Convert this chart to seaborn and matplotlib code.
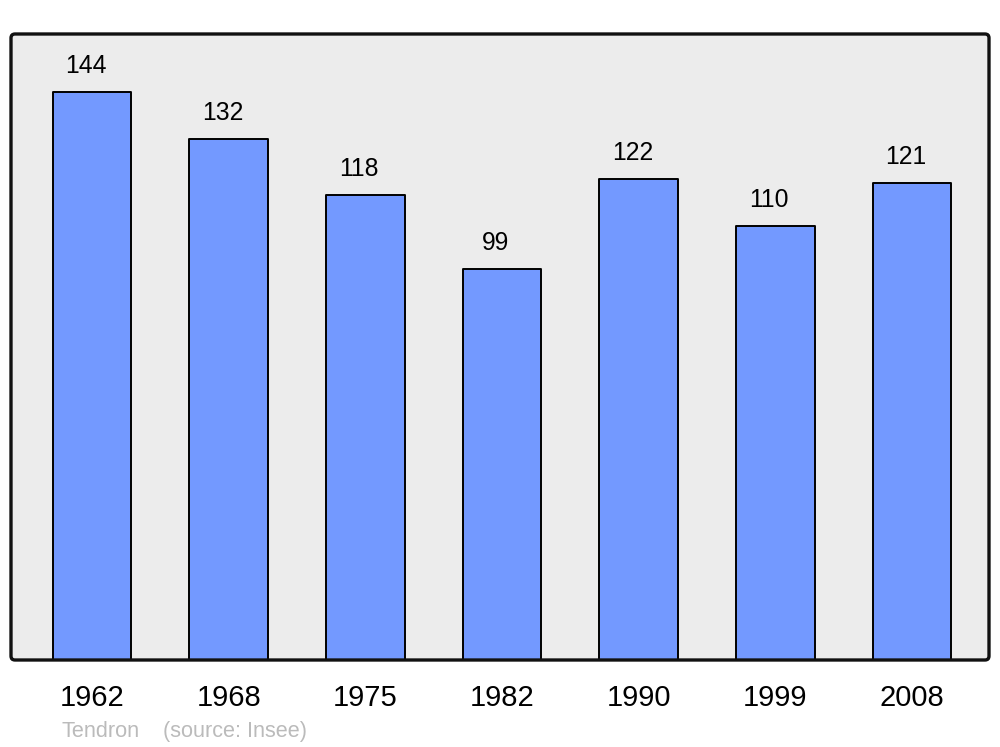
import numpy as np
import pandas as pd
import matplotlib
matplotlib.use('Agg')
import matplotlib.pyplot as plt
import seaborn as sns
from matplotlib.patches import FancyBboxPatch

# data
years = ['1962', '1968', '1975', '1982', '1990', '1999', '2008']
population = [144, 132, 118, 99, 122, 110, 121]
commune = 'Tendron'
source = '(source: Insee)'

sns.set_theme(style='white')
plt.rcParams['font.family'] = ['Liberation Sans', 'DejaVu Sans']

df = pd.DataFrame({'year': years, 'pop': population})

fig = plt.figure(figsize=(10, 7.47), dpi=100)
ax = fig.add_axes([0.011, 87 / 747, 0.978, 626 / 747])
ax.set_facecolor('#ececec')

sns.barplot(data=df, x='year', y='pop', ax=ax, color='#7399ff', saturation=1,
            width=0.575, edgecolor='black', linewidth=1.4)
for p in ax.patches:
    p.set_joinstyle('round')

ax.set_ylim(0, 158.7)
ax.set_xlim(-0.593, 6.563)
ax.set_yticks([])
ax.set_xlabel('')
ax.set_ylabel('')
ax.tick_params(axis='x', labelsize=21, pad=17, length=0)
for lbl in ax.get_xticklabels():
    lbl.set_color('black')

# value labels above bars
for i, v in enumerate(population):
    ax.annotate(str(v), (i - 0.045, v), xytext=(0, 13.7), textcoords='offset points',
                ha='center', va='baseline', fontsize=17.8, color='black')

# rounded frame instead of spines
for s in ax.spines.values():
    s.set_visible(False)
frame = FancyBboxPatch((0.011, 87 / 747), 0.978, 626 / 747,
                       boxstyle='round,pad=0,rounding_size=0.004',
                       mutation_aspect=1000 / 747, transform=fig.transFigure,
                       facecolor='none', edgecolor='#111111', linewidth=2.4,
                       zorder=10, clip_on=False)
fig.patches.append(frame)

fig.text(0.061, 1 - 737 / 747, commune, fontsize=15.6, color='#bbbbbb', va='baseline')
fig.text(0.163, 1 - 737 / 747, source, fontsize=15.6, color='#bbbbbb', va='baseline')

fig.savefig('out.png', dpi=100)
